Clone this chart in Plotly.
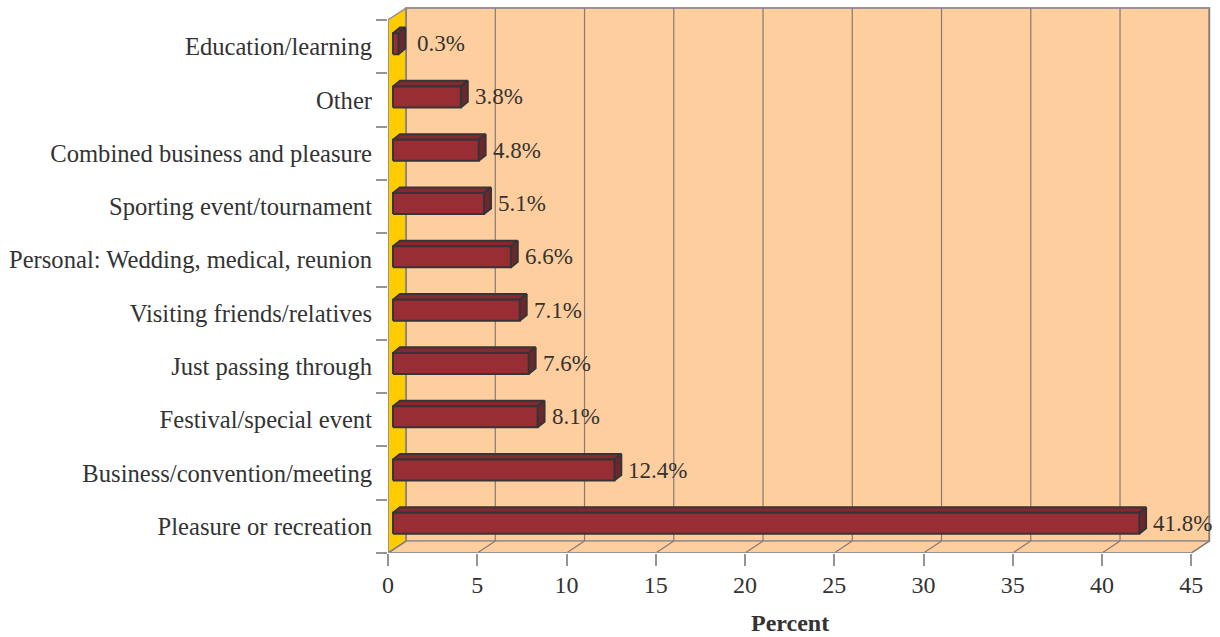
import plotly.graph_objects as go

categories = ["Pleasure or recreation", "Business/convention/meeting", "Festival/special event",
              "Just passing through", "Visiting friends/relatives",
              "Personal: Wedding, medical, reunion", "Sporting event/tournament",
              "Combined business and pleasure", "Other", "Education/learning"]
values = [41.8, 12.4, 8.1, 7.6, 7.1, 6.6, 5.1, 4.8, 3.8, 0.3]
x_ticks = [0, 5, 10, 15, 20, 25, 30, 35, 40, 45]
x_title = "Percent"

FONT = "Liberation Serif, Times New Roman, serif"
TXT = "#333333"
WALL = "#FECE9E"
SIDEWALL = "#FFCC00"
GRID = "#857A74"
EDGE = "#9A9490"
BAR_FRONT = "#982D34"
BAR_TOP = "#84292F"
BAR_SIDE = "#6C272C"
BAR_LINE = "#383436"

# 3D geometry in data units
XMAX = 45
DX, DY = 1.01, 0.225          # depth of the walls
Y0, Y1 = -0.5, len(categories) - 0.5
BX, BY = 0.28, 0.056          # bar front offset from front plane
BH = 0.197                    # half bar height
BDX, BDY = 0.39, 0.105        # bar depth

fig = go.Figure()

def poly(xs, ys, fill, line, width=1):
    fig.add_trace(go.Scatter(x=xs, y=ys, mode="lines", fill="toself", fillcolor=fill,
                             line=dict(color=line, width=width), hoverinfo="skip",
                             showlegend=False))

# back wall
poly([DX, XMAX + DX, XMAX + DX, DX, DX], [Y0 + DY, Y0 + DY, Y1 + DY, Y1 + DY, Y0 + DY], WALL, EDGE, 2)
# floor
poly([0, XMAX, XMAX + DX, DX, 0], [Y0, Y0, Y0 + DY, Y0 + DY, Y0], WALL, EDGE, 1.5)
# left side wall
poly([0, 0, DX, DX, 0], [Y0, Y1, Y1 + DY, Y0 + DY, Y0], SIDEWALL, EDGE, 1.5)

# gridlines on back wall and floor
gx, gy = [], []
for t in x_ticks:
    gx += [t + DX, t + DX, None]
    gy += [Y0 + DY, Y1 + DY, None]
    gx += [t, t + DX, None]
    gy += [Y0, Y0 + DY, None]
fig.add_trace(go.Scatter(x=gx, y=gy, mode="lines", line=dict(color=GRID, width=1.2),
                         hoverinfo="skip", showlegend=False))

# axis lines
fig.add_trace(go.Scatter(x=[0, 0, XMAX], y=[Y1, Y0, Y0], mode="lines",
                         line=dict(color=EDGE, width=2), hoverinfo="skip", showlegend=False))

# bars
for i, v in enumerate(values):
    c = i + BY
    x0, x1 = BX, v + BX
    yb, yt = c - BH, c + BH
    poly([x0, x1, x1 + BDX, x0 + BDX, x0], [yt, yt, yt + BDY, yt + BDY, yt], BAR_TOP, BAR_LINE, 2)
    poly([x1, x1 + BDX, x1 + BDX, x1, x1], [yb, yb + BDY, yt + BDY, yt, yb], BAR_SIDE, BAR_LINE, 2)
    poly([x0, x1, x1, x0, x0], [yb, yb, yt, yt, yb], BAR_FRONT, BAR_LINE, 2)
    fig.add_annotation(x=x1 + BDX, y=c, xref="x", yref="y", text=f"{v}%",
                       showarrow=False, xanchor="left", yanchor="middle",
                       xshift=(10 if v < 1 else 5),
                       font=dict(family=FONT, size=23, color=TXT))

fig.add_annotation(x=XMAX / 2, y=0, xref="x", yref="paper", text=f"<b>{x_title}</b>",
                   showarrow=False, yanchor="top", yshift=-55,
                   font=dict(family=FONT, size=24, color=TXT))

W, H = 1220, 637
L, R, T, B = 388, 8, 6, 84
pxu_x = 17.85
pxu_y = (553 - 20) / len(categories)
xr = (W - L - R) / pxu_x
yr_top = Y0 + (H - T - B) / pxu_y

fig.update_layout(
    width=W, height=H, margin=dict(l=L, r=R, t=T, b=B),
    paper_bgcolor="white", plot_bgcolor="white",
    font=dict(family=FONT, size=24, color=TXT),
    xaxis=dict(range=[0, xr], tickvals=x_ticks, ticktext=[str(t) for t in x_ticks],
               showgrid=False, zeroline=False, showline=False,
               ticks="outside", ticklen=12, tickwidth=1.5, tickcolor=EDGE,
               ticklabelstandoff=-2, fixedrange=True),
    yaxis=dict(range=[Y0, yr_top], tickvals=list(range(len(categories))), ticktext=categories,
               showgrid=False, zeroline=False, showline=False, ticks="",
               ticklabelstandoff=15, tickfont=dict(size=24.6),
               minor=dict(tickvals=[k - 0.5 for k in range(len(categories) + 1)],
                          ticks="outside", ticklen=11, tickcolor=EDGE, tickwidth=1.5),
               fixedrange=True),
)

fig.write_html("out.html")
